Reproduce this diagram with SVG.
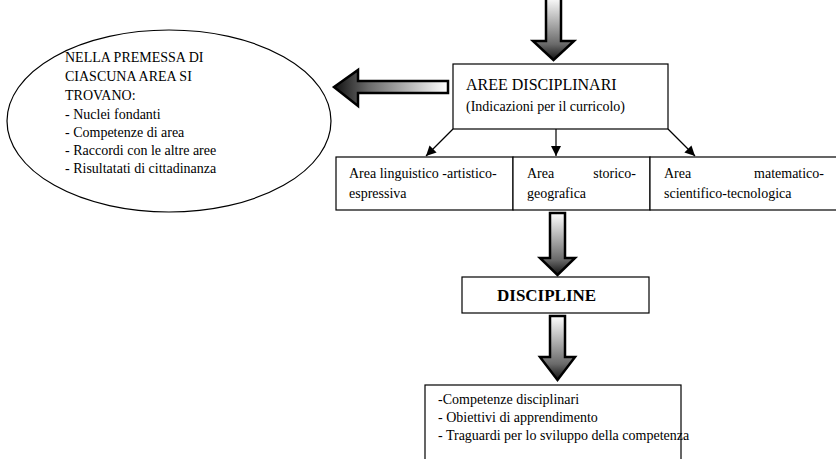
<svg xmlns="http://www.w3.org/2000/svg" width="836" height="459" viewBox="0 0 836 459">
<style>
  text { font-family: "Liberation Serif", "Times New Roman", serif; fill: #000; }
  .box { fill: #fff; stroke: #000; stroke-width: 1.2; }
  .big { stroke: #000; stroke-width: 2.5; stroke-linejoin: miter; }
  .thin { stroke: #000; stroke-width: 1.2; fill: none; }
  .t14 { font-size: 14px; }
</style>
<defs>
  <linearGradient id="gDown" x1="0" y1="0" x2="0" y2="1">
    <stop offset="0" stop-color="#ffffff"/>
    <stop offset="0.75" stop-color="#6a6a6a"/>
    <stop offset="1" stop-color="#111111"/>
  </linearGradient>
  <linearGradient id="gLeft" x1="1" y1="0" x2="0" y2="0">
    <stop offset="0" stop-color="#ffffff"/>
    <stop offset="0.7" stop-color="#6a6a6a"/>
    <stop offset="1" stop-color="#111111"/>
  </linearGradient>
  <marker id="ah" viewBox="0 0 10 10" refX="10" refY="5" markerWidth="10" markerHeight="10" markerUnits="userSpaceOnUse" orient="auto">
    <path d="M0,0 L10,5 L0,10 Z" fill="#000"/>
  </marker>
</defs>

<g id="connectors">
  <polygon class="big" fill="url(#gDown)" points="546,-3 561,-3 561,41 574,41 553.5,60 533,41 546,41"/>
  <polygon class="big" fill="url(#gLeft)" points="448,81 448,93 358,93 358,106 334,87 358,70 358,81"/>
  <line class="thin" x1="453" y1="129" x2="426" y2="156" marker-end="url(#ah)"/>
  <line class="thin" x1="556" y1="129" x2="556" y2="156" marker-end="url(#ah)"/>
  <line class="thin" x1="668" y1="129" x2="695" y2="156" marker-end="url(#ah)"/>
  <polygon class="big" fill="url(#gDown)" points="550,213 565,213 565,258 575,258 557.5,275 540,258 550,258"/>
  <polygon class="big" fill="url(#gDown)" points="550,316 565,316 565,357 575,357 557.5,380 540,357 550,357"/>
</g>

<g id="premessa">
  <ellipse cx="169" cy="121" rx="162" ry="91" fill="#fff" stroke="#000" stroke-width="1.2"/>
  <text class="t14" x="65" y="62">NELLA PREMESSA DI</text>
  <text class="t14" x="65" y="81">CIASCUNA AREA SI</text>
  <text class="t14" x="65" y="100">TROVANO:</text>
  <text class="t14" x="65" y="119">- Nuclei fondanti</text>
  <text class="t14" x="65" y="137">- Competenze di area</text>
  <text class="t14" x="65" y="155">- Raccordi con le altre aree</text>
  <text class="t14" x="65" y="173">- Risultatati di cittadinanza</text>
</g>

<g id="aree">
  <rect class="box" x="453" y="64" width="215" height="65"/>
  <text x="466" y="90" font-size="16">AREE DISCIPLINARI</text>
  <text class="t14" x="466" y="111">(Indicazioni per il curricolo)</text>
</g>

<g id="area-linguistica">
  <rect class="box" x="336" y="157" width="177" height="53"/>
  <text class="t14" x="349" y="178">Area linguistico -artistico-</text>
  <text class="t14" x="349" y="198">espressiva</text>
</g>

<g id="area-storica">
  <rect class="box" x="513" y="157" width="137" height="53"/>
  <text class="t14" x="527" y="178">Area</text>
  <text class="t14" x="636" y="178" text-anchor="end">storico-</text>
  <text class="t14" x="527" y="198">geografica</text>
</g>

<g id="area-matematica">
  <rect class="box" x="650" y="157" width="200" height="53"/>
  <text class="t14" x="664" y="178">Area</text>
  <text class="t14" x="824" y="178" text-anchor="end">matematico-</text>
  <text class="t14" x="664" y="198">scientifico-tecnologica</text>
</g>

<g id="discipline">
  <rect class="box" x="462" y="277" width="187" height="36"/>
  <text x="497" y="301" font-size="17" font-weight="bold">DISCIPLINE</text>
</g>

<g id="competenze">
  <rect class="box" x="425" y="385" width="256" height="90"/>
  <text class="t14" x="438" y="404">-Competenze disciplinari</text>
  <text class="t14" x="438" y="422">- Obiettivi di apprendimento</text>
  <text class="t14" x="438" y="440">- Traguardi per lo sviluppo della competenza</text>
</g>
</svg>
